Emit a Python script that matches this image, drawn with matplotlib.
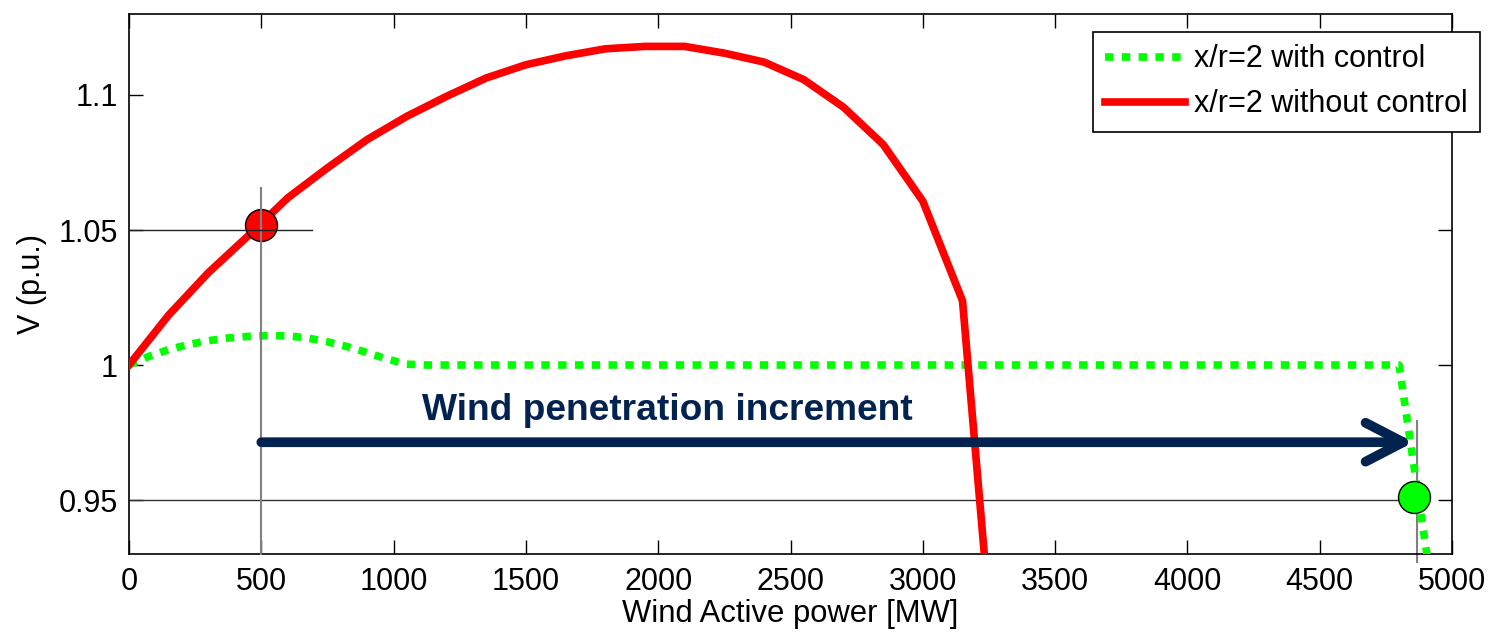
import numpy as np
import matplotlib.pyplot as plt

plt.rcParams['font.family'] = ['Liberation Sans', 'DejaVu Sans']

# x/r=2 without control
p_nc = [0, 150, 300, 450, 600, 750, 900, 1050, 1200, 1350, 1500, 1650,
        1800, 1950, 2100, 2250, 2400, 2550, 2700, 2850, 3000, 3150, 3300]
v_nc = [1.0000, 1.0185, 1.0342, 1.0478, 1.0619, 1.0730, 1.0835, 1.0921,
        1.0995, 1.1063, 1.1112, 1.1145, 1.1171, 1.1180, 1.1180, 1.1155,
        1.1122, 1.1057, 1.0955, 1.0817, 1.0607, 1.0238, 0.8530]

# x/r=2 with control
p_c = [0, 75, 150, 225, 300, 375, 450, 525, 600, 675, 750, 825, 900, 975,
       1050, 1125, 4800, 4950]
v_c = [1.0000, 1.0032, 1.0057, 1.0076, 1.0090, 1.0100, 1.0106, 1.0109,
       1.0108, 1.0100, 1.0086, 1.0068, 1.0046, 1.0022, 1.0003, 1.0000,
       1.0000, 0.9000]

# marked operating points
pt_nc = (500, 1.0518)
pt_c = (4856, 0.9512)

# guide lines: (x0, x1, y0, y1)
guide_v1 = (500, 500, 0.93, 1.0656)
guide_h1 = (0, 690, 1.05, 1.05)
guide_v2 = (4866, 4866, 0.927, 0.9794)
guide_h2 = (0, 4866, 0.95, 0.95)

arrow_y = 0.9714
arrow_x0, arrow_x1 = 500, 4855
arrow_text = 'Wind penetration increment'
text_pos = (1106, 0.9798)

navy = '#02224f'

fig = plt.figure(figsize=(14.91, 6.36), dpi=100)
ax = fig.add_axes([129 / 1491, 82 / 636, 1323 / 1491, 540 / 636])

ax.plot(p_c, v_c, color='#00ff00', lw=5.5, ls=(0, (1.1, 1.1)),
        label='x/r=2 with control', zorder=3)
ax.plot(p_nc, v_nc, color='#ff0000', lw=5.5,
        label='x/r=2 without control', zorder=3)

# guide lines
ax.plot(guide_v1[:2], guide_v1[2:], color='#808080', lw=1.5, zorder=5, clip_on=False)
ax.plot(guide_h1[:2], guide_h1[2:], color='#222222', lw=1.0, zorder=5)
ax.plot(guide_h2[:2], guide_h2[2:], color='#333333', lw=1.0, zorder=2)
ax.plot(guide_v2[:2], guide_v2[2:], color='#808080', lw=1.5, zorder=2, clip_on=False)

ax.plot(*pt_nc, 'o', ms=23, mfc='#ff0000', mec='black', mew=1, zorder=4)
ax.plot(*pt_c, 'o', ms=23, mfc='#00ff00', mec='black', mew=1, zorder=4)

ax.annotate('', xy=(arrow_x1, arrow_y), xytext=(arrow_x0, arrow_y),
            arrowprops=dict(arrowstyle='->,head_length=27,head_width=14',
                            mutation_scale=1, lw=7, color=navy,
                            shrinkA=0, shrinkB=0, capstyle='round',
                            joinstyle='round'), zorder=6)
ax.text(*text_pos, arrow_text, fontsize=26.7, fontweight='bold', color=navy,
        ha='left', va='baseline', zorder=6)

ax.set_xlim(0, 5000)
ax.set_ylim(0.93, 1.13)
ax.set_xticks(np.arange(0, 5001, 500))
ax.set_yticks([0.95, 1.0, 1.05, 1.1])
ax.set_yticklabels(['0.95', '1', '1.05', '1.1'])
ax.tick_params(direction='in', length=10, width=1, top=True, right=True,
               labelsize=22, colors='black')
ax.tick_params(axis='x', pad=9)
ax.tick_params(axis='y', pad=8)
for s in ax.spines.values():
    s.set_linewidth(1.2)

ax.set_xlabel('Wind Active power [MW]', fontsize=22.3, labelpad=2)
ax.set_ylabel('V (p.u.)', fontsize=22, labelpad=8)

leg = ax.legend(loc='upper left', bbox_to_anchor=(1093 / 1491, 604 / 636),
                bbox_transform=fig.transFigure, borderaxespad=0,
                fontsize=22, handlelength=2.6, handletextpad=0.3,
                labelspacing=0.5, fancybox=False, framealpha=1,
                edgecolor='black')
leg.get_frame().set_linewidth(1.2)

fig.savefig('out.png', dpi=100)
